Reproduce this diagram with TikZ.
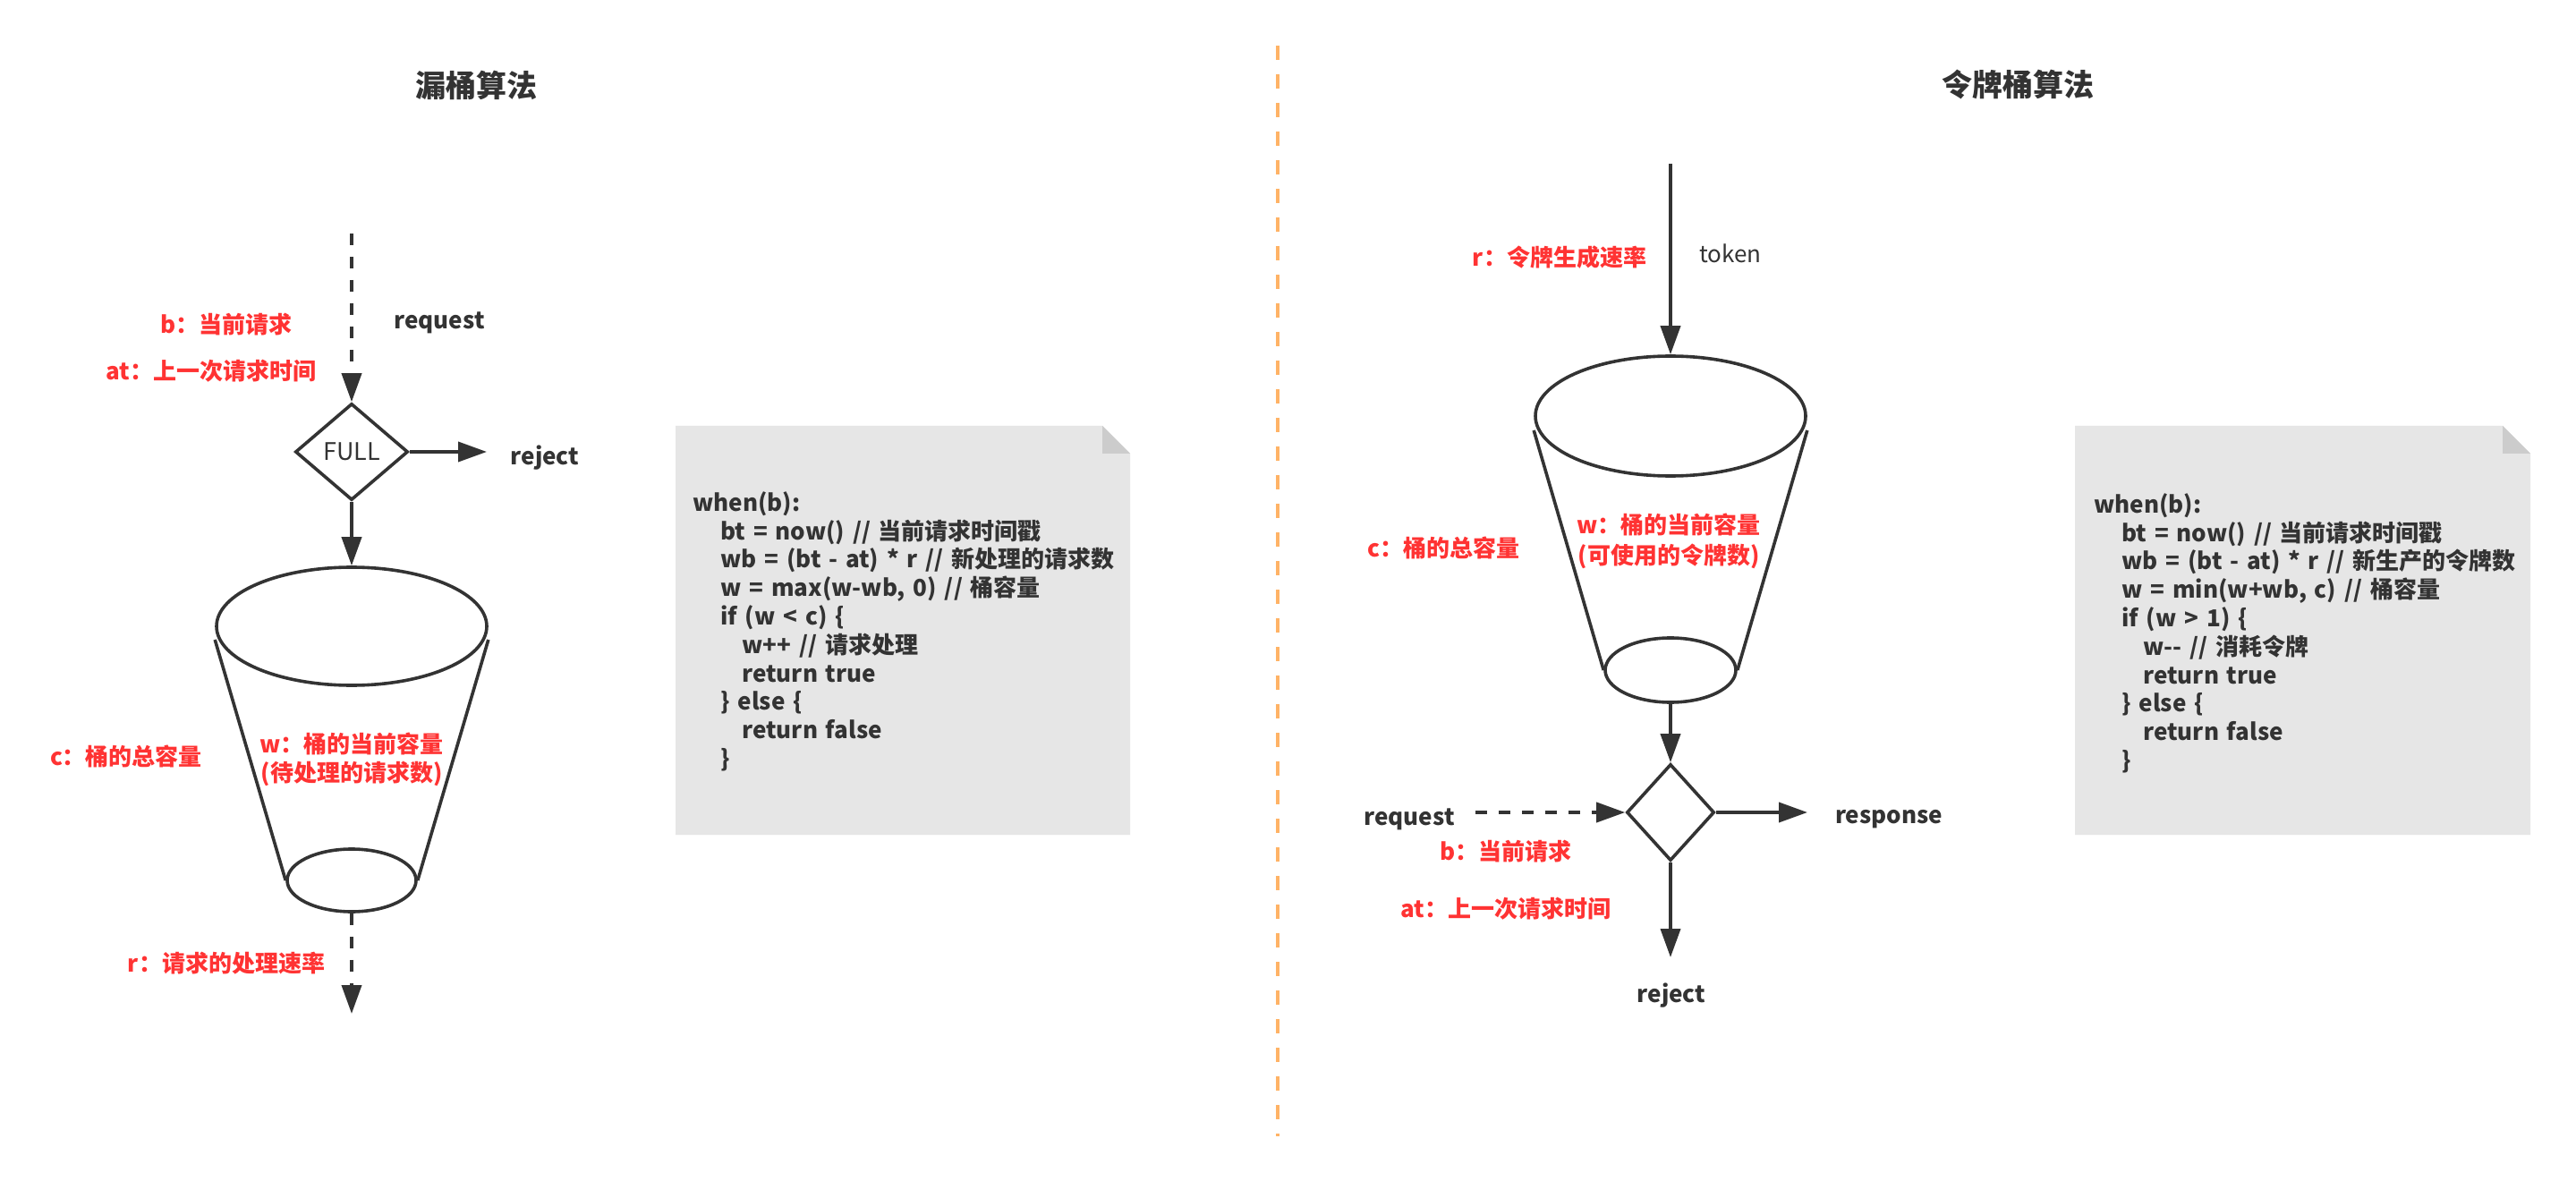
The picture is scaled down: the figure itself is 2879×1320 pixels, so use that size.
\documentclass[tikz,border=0pt]{standalone}
\usepackage{fontspec}
\setmainfont{Noto Sans CJK SC}
\usetikzlibrary{arrows.meta,shapes.geometric,calc}
\definecolor{ink}{HTML}{333333}
\definecolor{redtxt}{HTML}{FF3333}
\definecolor{orangeline}{HTML}{FFB366}
\definecolor{notefill}{HTML}{E6E6E6}
\definecolor{notefold}{HTML}{CCCCCC}
\begin{document}
\begin{tikzpicture}[x=0.5pt,y=-0.5pt,
  lbl/.style={font=\fontsize{13}{15.6}\selectfont\bfseries, text=ink, inner sep=0pt},
  plainlbl/.style={font=\fontsize{13}{15.6}\selectfont, text=ink, inner sep=0pt},
  redlbl/.style={font=\fontsize{13}{16}\selectfont\bfseries, text=redtxt, inner sep=0pt, align=center},
  ttl/.style={font=\fontsize{17}{20}\selectfont\bfseries, text=ink, inner sep=0pt},
  codetxt/.style={font={\fontsize{13}{15.9}\selectfont\bfseries\spaceskip=0.34em\relax}, text=ink, inner sep=0pt, align=left, anchor=north west},
  shp/.style={draw=ink, line width=1.8pt},
  conn/.style={draw=ink, line width=1.9pt, -{Triangle[length=16pt,width=11pt]}},
  dconn/.style={conn, dash pattern=on 6.5pt off 6.5pt},
  bucketrim/.style={shp, ellipse, inner sep=0pt},
  decision/.style={shp, diamond, inner sep=0pt},
  divider/.style={draw=orangeline, line width=2pt, dash pattern=on 8pt off 8pt},
]
\useasboundingbox (0,0) rectangle (2879,1320);
\fill[white] (0,0) rectangle (2879,1320);

% divider
\draw[divider] (1428,51) -- (1428,1270);

% titles
\node[ttl] (ltitle) at (532,95) {漏桶算法};
\node[ttl] (rtitle) at (2255,95) {令牌桶算法};

% ---------------- left: leaky bucket ----------------
\coordinate (Lin) at (393,261);
\node[decision, minimum width=63pt, minimum height=54pt,
      font=\fontsize{13.5}{15.6}\selectfont, text=ink] (Lfull) at (393,505) {FULL};
\node[bucketrim, minimum width=151pt, minimum height=66pt] (Ltop) at (393,700) {};
\node[bucketrim, minimum width=72pt, minimum height=35pt] (Lbot) at (393,984) {};
\coordinate (Lrejpt) at (544,505);
\coordinate (Lout) at (393,1133);

\draw[dconn] (Lin) -- (Lfull.north);
\draw[conn] (Lfull.east) -- (Lrejpt);
\draw[conn] (Lfull.south) -- (Ltop.north);
\draw[shp] ($(Ltop.west)+(0,15)$) -- (Lbot.west);
\draw[shp] ($(Ltop.east)+(0,15)$) -- (Lbot.east);
\draw[dconn] (Lbot.south) -- (Lout);

\node[lbl] (Lreq) at (491,361) {request};
\node[lbl] (Lrej) at (609,512) {reject};
\node[redlbl] (Lb) at (253,363) {b：当前请求};
\node[redlbl] (Lat) at (236,415) {at：上一次请求时间};
\node[redlbl] (Lc) at (141,845) {c：桶的总容量};
\node[redlbl] (Lw) at (393,849) {w：桶的当前容量\\(待处理的请求数)};
\node[redlbl] (Lr) at (253,1077) {r：请求的处理速率};

% left note
\fill[notefill] (755,476) -- (1232,476) -- (1263,507) -- (1263,933) -- (755,933) -- cycle;
\fill[notefold] (1232,476) -- (1232,507) -- (1263,507) -- cycle;
\node[codetxt] (Lcode) at (774,549) {when(b):\\
\hspace*{15.5pt}bt = now() // 当前请求时间戳\\
\hspace*{15.5pt}wb = (bt - at) * r // 新处理的请求数\\
\hspace*{15.5pt}w = max(w-wb, 0) // 桶容量\\
\hspace*{15.5pt}if (w < c) \{\\
\hspace*{27.5pt}w++ // 请求处理\\
\hspace*{27.5pt}return true\\
\hspace*{15.5pt}\} else \{\\
\hspace*{27.5pt}return false\\
\hspace*{15.5pt}\}};

% ---------------- right: token bucket ----------------
\coordinate (Rin) at (1867,183);
\node[bucketrim, minimum width=151pt, minimum height=67pt] (Rtop) at (1867,465) {};
\node[bucketrim, minimum width=73pt, minimum height=36pt] (Rbot) at (1867,749) {};
\node[decision, minimum width=49pt, minimum height=54pt] (Rdec) at (1867,908) {};
\coordinate (Rreqpt) at (1649,908);
\coordinate (Rresppt) at (2020,908);
\coordinate (Rrejpt) at (1867,1070);

\draw[conn] (Rin) -- (Rtop.north);
\draw[shp] ($(Rtop.west)+(0,16)$) -- (Rbot.west);
\draw[shp] ($(Rtop.east)+(0,16)$) -- (Rbot.east);
\draw[conn] (Rbot.south) -- (Rdec.north);
\draw[dconn] (Rreqpt) -- (Rdec.west);
\draw[conn] (Rdec.east) -- (Rresppt);
\draw[conn] (Rdec.south) -- (Rrejpt);

\node[plainlbl] (Rtok) at (1934,283) {token};
\node[redlbl] (Rr) at (1743,288) {r：令牌生成速率};
\node[redlbl] (Rc) at (1613,612) {c：桶的总容量};
\node[redlbl, font=\fontsize{13}{17}\selectfont\bfseries] (Rw) at (1865,605) {w：桶的当前容量\\(可使用的令牌数)};
\node[lbl] (Rreq) at (1575,916) {request};
\node[lbl] (Rresp) at (2111,916) {response};
\node[lbl] (Rrej) at (1868,1113) {reject};
\node[redlbl] (Rb) at (1683,952) {b：当前请求};
\node[redlbl] (Rat) at (1683,1016) {at：上一次请求时间};

% right note
\fill[notefill] (2319,476) -- (2797,476) -- (2828,507) -- (2828,933) -- (2319,933) -- cycle;
\fill[notefold] (2797,476) -- (2797,507) -- (2828,507) -- cycle;
\node[codetxt] (Rcode) at (2340,551) {when(b):\\
\hspace*{15.5pt}bt = now() // 当前请求时间戳\\
\hspace*{15.5pt}wb = (bt - at) * r // 新生产的令牌数\\
\hspace*{15.5pt}w = min(w+wb, c) // 桶容量\\
\hspace*{15.5pt}if (w > 1) \{\\
\hspace*{27.5pt}w\mbox{-}\mbox{-} // 消耗令牌\\
\hspace*{27.5pt}return true\\
\hspace*{15.5pt}\} else \{\\
\hspace*{27.5pt}return false\\
\hspace*{15.5pt}\}};
\end{tikzpicture}
\end{document}
